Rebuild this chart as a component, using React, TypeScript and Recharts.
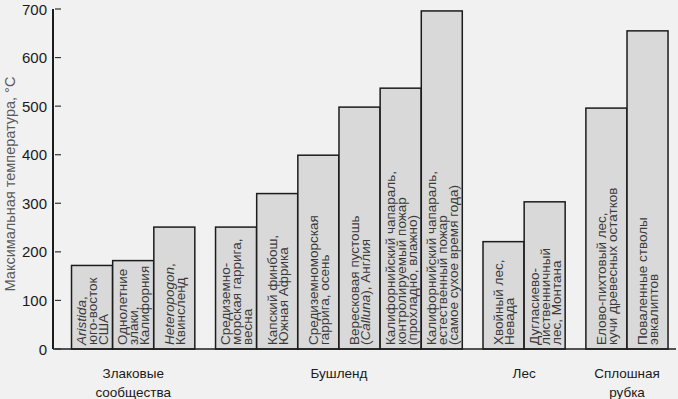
import { Bar, BarChart, XAxis, YAxis } from "recharts";

// bar texts: *word* is set in italics
const categories = [
  ["*Aristida*,", "юго-восток", "США"],
  ["Однолетние", "злаки,", "Калифорния"],
  ["*Heteropogon*,", "Квинсленд"],
  ["Средиземно-", "морская гаррига,", "весна"],
  ["Капский финбош,", "Южная Африка"],
  ["Средиземноморская", "гаррига, осень"],
  ["Вересковая пустошь", "(*Calluna*), Англия"],
  ["Калифорнийский чапараль,", "контролируемый пожар", "(прохладно, влажно)"],
  ["Калифорнийский чапараль,", "естественный пожар", "(самое сухое время года)"],
  ["Хвойный лес,", "Невада"],
  ["Дугласиево-", "лиственничный", "лес, Монтана"],
  ["Елово-пихтовый лес,", "кучи древесных остатков"],
  ["Поваленные стволы", "эвкалиптов"],
];
const temperatures = [172, 182, 251, 251, 320, 399, 498, 537, 696, 221, 303, 496, 655];
const groupOf = [0, 0, 0, 1, 1, 1, 1, 1, 1, 2, 2, 3, 3];
const groupLabels = [
  ["Злаковые", "сообщества"],
  ["Бушленд"],
  ["Лес"],
  ["Сплошная", "рубка"],
];
const yTicks = [0, 100, 200, 300, 400, 500, 600, 700];

const FONT = "'Liberation Sans', Arial, sans-serif";

// half a bar of space between groups
const positions = categories.map((_, i) => i + 1 + groupOf[i] * 0.5);
const groupCenters = groupLabels.map((_, g) => {
  const ps = positions.filter((_, i) => groupOf[i] === g);
  return (Math.min(...ps) + Math.max(...ps)) / 2;
});

const chartData = categories.map((lines, i) => ({
  pos: positions[i],
  value: temperatures[i],
  lines,
}));

function renderLine(line: string) {
  return line.split("*").map((part, k) => (
    <tspan fontStyle={k % 2 === 1 ? "italic" : "normal"} key={k}>
      {part}
    </tspan>
  ));
}

function BarShape(props: any) {
  const { x, y, width, height, payload } = props;
  const lines: string[] = payload.lines;
  const cx = x + width / 2;
  const bottom = y + height - 4;
  const lh = 11;
  return (
    <g>
      <rect
        fill="#d9d9d9"
        height={height}
        stroke="#1c1c1c"
        strokeWidth={1.5}
        width={width}
        x={x}
        y={y}
      />
      {lines.map((line, i) => {
        const lx = cx + (i - (lines.length - 1) / 2) * lh;
        return (
          <text
            dominantBaseline="central"
            fill="#3a3a3a"
            fontFamily={FONT}
            fontSize={13.5}
            key={i}
            textAnchor="start"
            transform={`translate(${lx},${bottom}) rotate(-90)`}
          >
            {renderLine(line)}
          </text>
        );
      })}
    </g>
  );
}

function GroupTick(props: any) {
  const { x, index } = props;
  const lines = groupLabels[index] ?? [];
  return (
    <g>
      {lines.map((l, i) => (
        <text
          dominantBaseline="central"
          fill="#1a1a1a"
          fontFamily={FONT}
          fontSize={13.5}
          key={i}
          textAnchor="middle"
          x={x}
          y={373 + i * 19}
        >
          {l}
        </text>
      ))}
    </g>
  );
}

function YTick(props: any) {
  const { x, y, payload } = props;
  return (
    <g>
      <line stroke="#333" strokeWidth={1.2} x1={x + 8} x2={x + 14} y1={y} y2={y} />
      <text
        dominantBaseline="central"
        fill="#1a1a1a"
        fontFamily={FONT}
        fontSize={15}
        textAnchor="end"
        x={x}
        y={y}
      >
        {payload.value}
      </text>
    </g>
  );
}

export default function App() {
  return (
    <div
      style={{
        position: "absolute",
        left: 0,
        top: 0,
        width: 678,
        height: 399,
        background: "#f1f1f1",
      }}
    >
      <BarChart
        barSize={41}
        data={chartData}
        height={399}
        margin={{ top: 9, right: 2, bottom: 0, left: 0 }}
        width={678}
      >
        <XAxis
          allowDataOverflow
          axisLine={{ stroke: "#1c1c1c", strokeWidth: 1.5 }}
          dataKey="pos"
          domain={[0.05, 15.19]}
          height={50}
          interval={0}
          tick={<GroupTick />}
          tickLine={false}
          tickSize={0}
          ticks={groupCenters}
          type="number"
        />
        <YAxis
          axisLine={{ stroke: "#1c1c1c", strokeWidth: 2 }}
          domain={[0, 700]}
          label={{
            content: () => (
              <text
                dominantBaseline="central"
                fill="#5a5a5a"
                fontFamily={FONT}
                fontSize={14.5}
                textAnchor="middle"
                transform="translate(10,184) rotate(-90)"
              >
                Максимальная температура, °C
              </text>
            ),
          }}
          tick={<YTick />}
          tickLine={false}
          tickMargin={6}
          tickSize={0}
          ticks={yTicks}
          type="number"
          width={53}
        />
        <Bar
          dataKey="value"
          isAnimationActive={false}
          shape={<BarShape />}
        />
      </BarChart>
    </div>
  );
}
